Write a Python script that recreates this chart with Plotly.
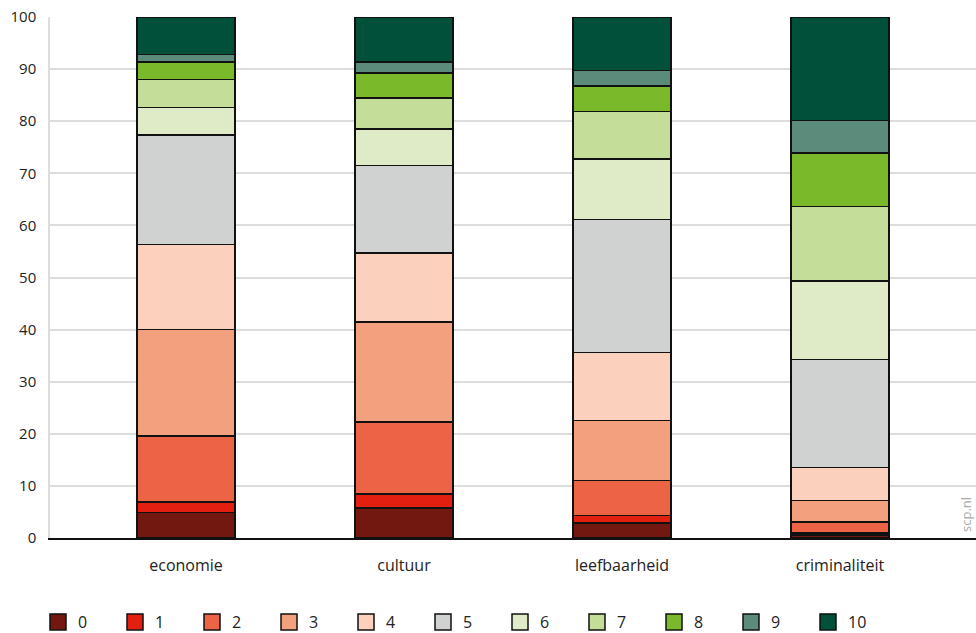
import plotly.graph_objects as go

categories = ["economie", "cultuur", "leefbaarheid", "criminaliteit"]
scores = ["0", "1", "2", "3", "4", "5", "6", "7", "8", "9", "10"]

economie = [4.9, 2.0, 12.7, 20.4, 16.3, 21.1, 5.2, 5.4, 3.4, 1.4, 7.2]
cultuur = [5.8, 2.6, 13.9, 19.2, 13.2, 16.8, 7.0, 6.0, 4.8, 2.1, 8.6]
leefbaarheid = [2.9, 1.4, 6.7, 11.6, 13.0, 25.5, 11.6, 9.2, 4.9, 2.9, 10.3]
criminaliteit = [0.6, 0.4, 2.1, 4.1, 6.3, 20.8, 15.0, 14.3, 10.3, 6.2, 19.9]

colors = ["#731810", "#e3200f", "#ec6445", "#f3a07e", "#fbd0bd", "#d0d2d1",
          "#dfeac7", "#c4de9a", "#7ab929", "#5b8b7a", "#00503a"]

yticks = [0, 10, 20, 30, 40, 50, 60, 70, 80, 90, 100]

series = [economie, cultuur, leefbaarheid, criminaliteit]

fig = go.Figure()
for i, s in enumerate(scores):
    fig.add_trace(go.Bar(
        name=s,
        x=categories,
        y=[row[i] for row in series],
        marker=dict(color=colors[i], line=dict(color="#111111", width=1.5)),
        width=0.45,
        legendgroup=s,
        showlegend=False,
    ))
# legend entries with larger square swatches
for i, s in enumerate(scores):
    fig.add_trace(go.Scatter(
        name=s, x=[None], y=[None], mode="markers",
        marker=dict(symbol="square", size=16, color=colors[i],
                    line=dict(color="#111111", width=1.5)),
        legendgroup=s, showlegend=True, hoverinfo="skip",
    ))

fig.update_layout(
    barmode="stack",
    width=976, height=633,
    margin=dict(l=50, r=0, t=17, b=95, autoexpand=False),
    plot_bgcolor="white", paper_bgcolor="white",
    font=dict(family="Open Sans", size=15, color="#222222"),
    xaxis=dict(range=[-0.624, 3.624], showgrid=False, showline=True,
               linecolor="#111111", linewidth=2, ticks="",
               ticklabelstandoff=12,
               tickfont=dict(size=16, color="#222222"), fixedrange=True),
    yaxis=dict(range=[0, 100], tickvals=yticks, showgrid=True,
               gridcolor="#dddddd", gridwidth=1.5, zeroline=False,
               showline=True, linecolor="#dddddd", linewidth=1.5,
               ticks="", ticklabelstandoff=9,
               tickfont=dict(size=15, color="#222222")),
    legend=dict(orientation="h", xref="container", yref="container",
                x=38/976, y=1-622/633, xanchor="left", yanchor="middle",
                traceorder="normal", entrywidth=32, entrywidthmode="pixels",
                itemsizing="trace",
                font=dict(size=16, color="#222222")),
    showlegend=True,
)

fig.add_annotation(text="scp.nl", xref="paper", yref="paper",
                   x=(966-50)/926, y=(538-515)/521, xanchor="center",
                   yanchor="middle", textangle=-90, showarrow=False,
                   font=dict(size=13, color="#aaaaaa"))

fig.write_html("out.html", config={"displayModeBar": False},
               post_script="document.body.style.margin='0';")
